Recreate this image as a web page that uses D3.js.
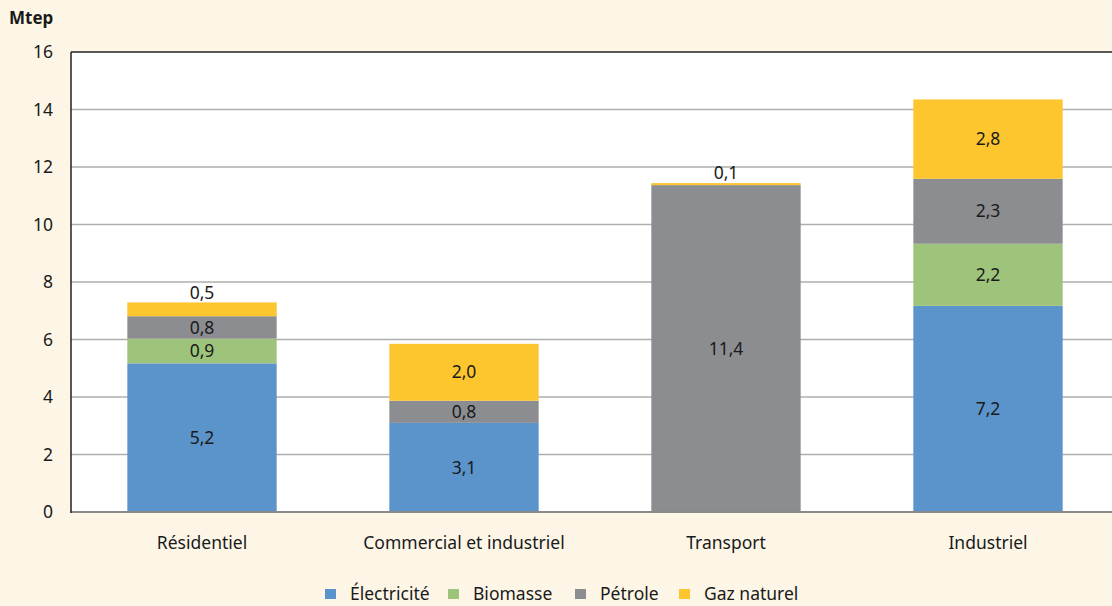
<!DOCTYPE html>
<html>
<head>
<meta charset="utf-8">
<script src="https://cdn.jsdelivr.net/npm/d3@7"></script>
<style>
  body { margin: 0; background: #fdf6e7; }
  svg { display: block; font-family: "Noto Sans", "Open Sans", sans-serif; }
</style>
</head>
<body>
<svg id="chart" width="1112" height="606"></svg>
<script>
const categories = ['Résidentiel', 'Commercial et industriel', 'Transport', 'Industriel'];
const seriesNames = ['Électricité', 'Biomasse', 'Pétrole', 'Gaz naturel'];
const electricite = [5.17, 3.10, 0, 7.17];
const biomasse = [0.86, 0, 0, 2.16];
const petrole = [0.78, 0.77, 11.37, 2.26];
const gaz = [0.48, 1.98, 0.07, 2.76];
const yTicks = [0, 2, 4, 6, 8, 10, 12, 14, 16];
const colors = ['#5b93cb', '#9dc47a', '#8c8d91', '#fdc52e'];

(function () {
  const width = 1112;
  const height = 606;
  const padding = { top: 52, left: 71, right: -7, bottom: 94 };
  const fontSize = 17.5;
  const fmt = v => v.toFixed(1).replace('.', ',');

  const svg = d3.select('#chart');

  const rows = categories.map((c, i) => ({
    cat: c,
    'Électricité': electricite[i],
    'Biomasse': biomasse[i],
    'Pétrole': petrole[i],
    'Gaz naturel': gaz[i]
  }));
  const stacked = d3.stack().keys(seriesNames)(rows);

  const xScale = d3.scaleBand()
    .domain(categories)
    .range([padding.left, width - padding.right])
    .paddingInner(0.43)
    .paddingOuter(0.215);
  const yScale = d3.scaleLinear().domain([0, 16]).range([height - padding.bottom, padding.top]);

  // plot background
  svg.append('rect')
    .attr('x', padding.left)
    .attr('y', padding.top)
    .attr('width', width - padding.left)
    .attr('height', yScale(0) - padding.top)
    .attr('fill', '#fff');

  // gridlines
  svg.append('g')
    .selectAll('line')
    .data(yTicks.filter(t => t > 0 && t < 16))
    .enter()
    .append('line')
    .attr('x1', padding.left)
    .attr('x2', width)
    .attr('y1', d => yScale(d))
    .attr('y2', d => yScale(d))
    .attr('stroke', '#aeaeae')
    .attr('stroke-width', 1.3);

  // bars
  const layers = svg.append('g')
    .selectAll('g')
    .data(stacked)
    .enter()
    .append('g')
    .attr('fill', (d, i) => colors[i]);

  layers.selectAll('rect')
    .data(d => d)
    .enter()
    .append('rect')
    .attr('x', d => xScale(d.data.cat))
    .attr('width', xScale.bandwidth())
    .attr('y', d => yScale(d[1]))
    .attr('height', d => yScale(d[0]) - yScale(d[1]));

  // value labels: inside when the segment is tall enough, above otherwise
  const labels = [];
  stacked.forEach((layer, k) => {
    layer.forEach((d, i) => {
      const v = [electricite, biomasse, petrole, gaz][k][i];
      if (v <= 0) return;
      const h = yScale(d[0]) - yScale(d[1]);
      const inside = h >= 18;
      labels.push({
        x: xScale(d.data.cat) + xScale.bandwidth() / 2,
        y: inside ? (yScale(d[0]) + yScale(d[1])) / 2 : yScale(d[1]) - 10,
        text: fmt(v)
      });
    });
  });

  svg.append('g')
    .selectAll('text')
    .data(labels)
    .enter()
    .append('text')
    .attr('x', d => d.x)
    .attr('y', d => d.y)
    .attr('dy', '0.35em')
    .attr('text-anchor', 'middle')
    .attr('font-size', fontSize)
    .attr('fill', '#1a1a1a')
    .text(d => d.text);

  // top border
  svg.append('line')
    .attr('x1', padding.left).attr('x2', width)
    .attr('y1', padding.top).attr('y2', padding.top)
    .attr('stroke', '#222').attr('stroke-width', 1.5);

  // x axis baseline
  svg.append('line')
    .attr('x1', padding.left).attr('x2', width)
    .attr('y1', yScale(0)).attr('y2', yScale(0))
    .attr('stroke', '#8a8a8a').attr('stroke-width', 2);

  svg.append('line')
    .attr('x1', padding.left).attr('x2', padding.left)
    .attr('y1', padding.top).attr('y2', yScale(0) + 1)
    .attr('stroke', '#222').attr('stroke-width', 1.5);

  // y axis labels
  const yAxis = d3.axisLeft(yScale).tickValues(yTicks).tickSize(0).tickPadding(18);
  const yg = svg.append('g')
    .attr('transform', `translate(${padding.left}, 0)`)
    .call(yAxis);
  yg.select('.domain').remove();
  yg.selectAll('text')
    .attr('font-size', fontSize)
    .attr('font-family', '"Noto Sans", sans-serif')
    .attr('fill', '#1a1a1a');

  // x axis labels
  const xAxis = d3.axisBottom(xScale).tickSize(0).tickPadding(25);
  const xg = svg.append('g')
    .attr('transform', `translate(0, ${yScale(0)})`)
    .call(xAxis);
  xg.select('.domain').remove();
  xg.selectAll('text')
    .attr('font-size', fontSize)
    .attr('font-family', '"Noto Sans", sans-serif')
    .attr('fill', '#1a1a1a');

  // unit label
  svg.append('text')
    .attr('x', 9)
    .attr('y', 24)
    .attr('font-size', 17)
    .attr('font-weight', 'bold')
    .attr('fill', '#1a1a1a')
    .text('Mtep');

  // legend
  const legendX = [325, 448, 575, 679];
  const legend = svg.append('g')
    .selectAll('g')
    .data(seriesNames)
    .enter()
    .append('g')
    .attr('transform', (d, i) => `translate(${legendX[i]}, 594)`);

  legend.append('rect')
    .attr('x', 0).attr('y', -5)
    .attr('width', 11).attr('height', 10)
    .attr('fill', (d, i) => colors[i]);

  legend.append('text')
    .attr('x', 25)
    .attr('y', 0)
    .attr('dy', '0.35em')
    .attr('font-size', fontSize)
    .attr('fill', '#1a1a1a')
    .text(d => d);
})();
</script>
</body>
</html>
